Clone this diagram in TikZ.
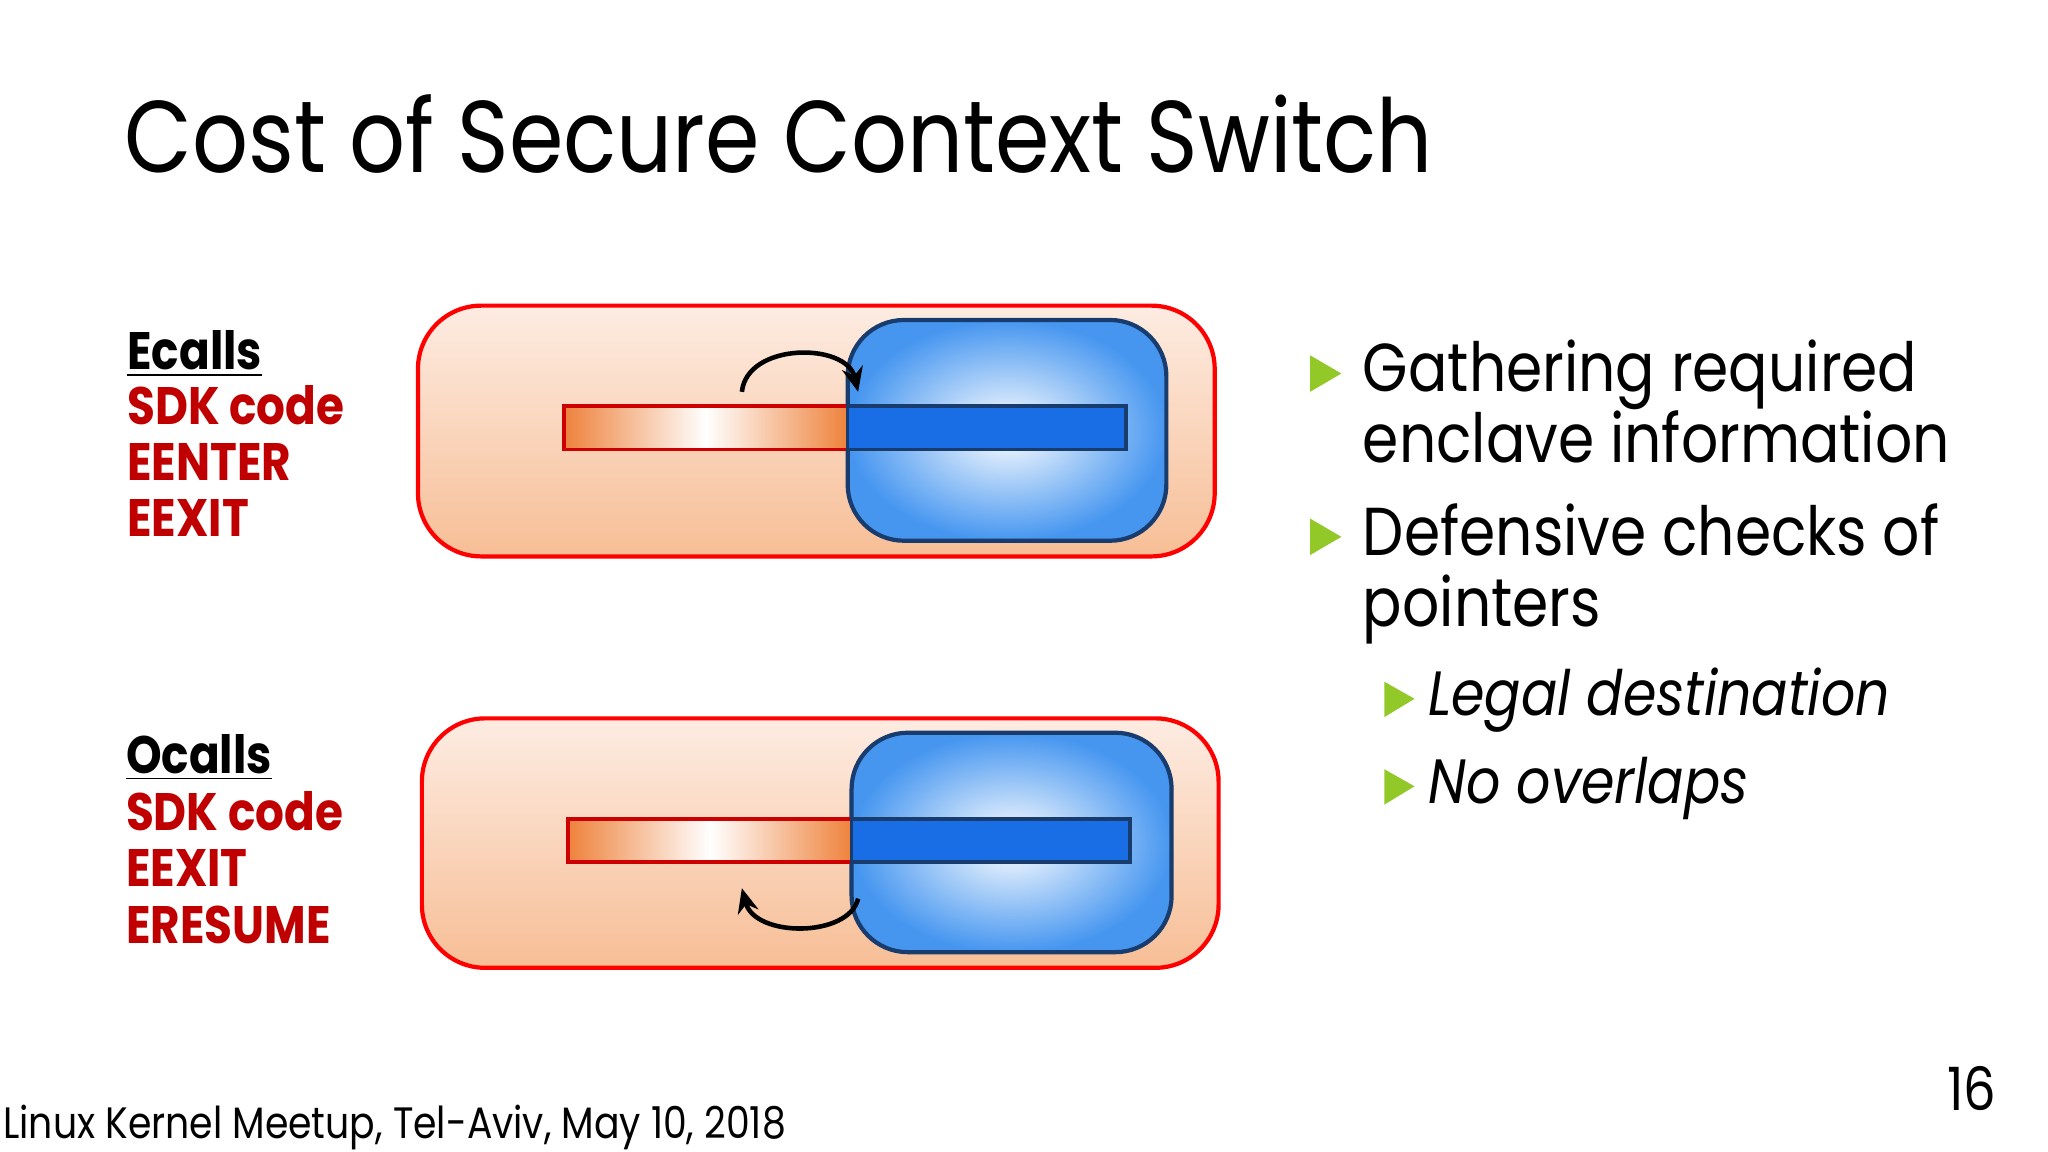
\documentclass[tikz,border=0pt]{standalone}
\usepackage{fontspec}
\setmainfont{Poppins}[FakeStretch=0.86]
\usetikzlibrary{arrows.meta}
\definecolor{sdkred}{RGB}{192,0,0}
\definecolor{bgreen}{RGB}{146,200,40}
\definecolor{peachT}{RGB}{253,236,226}
\definecolor{peachB}{RGB}{247,190,150}
\definecolor{orng}{RGB}{238,130,60}
\definecolor{bluO}{RGB}{70,150,240}
\definecolor{bluBar}{RGB}{25,110,230}
\definecolor{bluEdge}{RGB}{25,60,110}
\tikzset{
 outerbox/.style={draw=red,line width=1.2pt,rounded corners=18pt,top color=peachT,bottom color=peachB},
 enclave/.style={draw=bluEdge,line width=1.2pt,rounded corners=16pt,inner color=white,outer color=bluO},
 barL/.style={draw=red!80!black,line width=1pt,left color=orng,right color=orng,middle color=white},
 barR/.style={draw=bluEdge,line width=1pt,fill=bluBar},
 lbl/.style={anchor=base west,inner sep=0,font=\fontsize{15}{17}\selectfont\bfseries,text=sdkred},
 hdr/.style={anchor=base west,inner sep=0,font=\fontsize{15}{17}\selectfont\bfseries},
 btxt/.style={anchor=base west,inner sep=0,font=\fontsize{19.3}{22}\selectfont},
 stxt/.style={anchor=base west,inner sep=0,font=\fontsize{17.8}{19}\selectfont\itshape},
 tri/.style={fill=bgreen},
 curv/.style={line width=1.3pt,-{Stealth[length=7pt,width=6pt]}}
}
\begin{document}
\begin{tikzpicture}[x=0.013061cm,y=-0.013061cm]
\useasboundingbox (0,0) rectangle (1568,882);
\node[anchor=base west,inner sep=0,font=\fontsize{29}{32}\selectfont] (title) at (95,132) {Cost of Secure Context Switch};
% top diagram
\draw[outerbox] (320,234) rectangle (930,426);
\draw[enclave] (649,245) rectangle (893,414);
\draw[barL] (432,311) rectangle (649,344);
\draw[barR] (649,311) rectangle (862,344);
\coordinate (a1) at (568,300); \coordinate (a2) at (657,300);
\draw[curv] (a1) .. controls (572,262) and (648,262) .. (a2);
% bottom diagram
\draw[outerbox] (323,550) rectangle (933,741);
\draw[enclave] (652,561) rectangle (897,729);
\draw[barL] (435,627) rectangle (652,660);
\draw[barR] (652,627) rectangle (865,660);
\coordinate (b1) at (657,688); \coordinate (b2) at (568,680);
\draw[curv] (b1) .. controls (650,718) and (578,718) .. (b2);
% left labels
\node[hdr] (ec) at (97,283) {\underline{Ecalls}};
\node[lbl] (e1) at (97,325) {SDK code};
\node[lbl] (e2) at (97,368) {EENTER};
\node[lbl] (e3) at (97,411) {EEXIT};
\node[hdr] (oc) at (96,592) {\underline{Ocalls}};
\node[lbl] (o1) at (96,636) {SDK code};
\node[lbl] (o2) at (96,679) {EEXIT};
\node[lbl] (o3) at (96,722) {ERESUME};
% bullets
\fill[tri] (1003,272) -- (1027,286) -- (1003,300) -- cycle;
\fill[tri] (1003,397) -- (1027,411) -- (1003,425) -- cycle;
\fill[tri] (1060,522) -- (1083,535) -- (1060,549) -- cycle;
\fill[tri] (1060,589) -- (1083,602) -- (1060,616) -- cycle;
\node[btxt] (t1) at (1043,300) {Gathering required};
\node[btxt] (t2) at (1043,354) {enclave information};
\node[btxt] (t3) at (1043,425) {Defensive checks of};
\node[btxt] (t4) at (1043,480) {pointers};
\node[stxt] (s1) at (1093,548) {Legal destination};
\node[stxt] (s2) at (1093,615) {No overlaps};
\node[anchor=base east,inner sep=0,font=\fontsize{17}{19}\selectfont] (pg) at (1529,850) {16};
\node[anchor=base west,inner sep=0,font=\fontsize{12.5}{14}\selectfont] (ft) at (2,872) {Linux Kernel Meetup, Tel-Aviv, May 10, 2018};
\end{tikzpicture}
\end{document}
